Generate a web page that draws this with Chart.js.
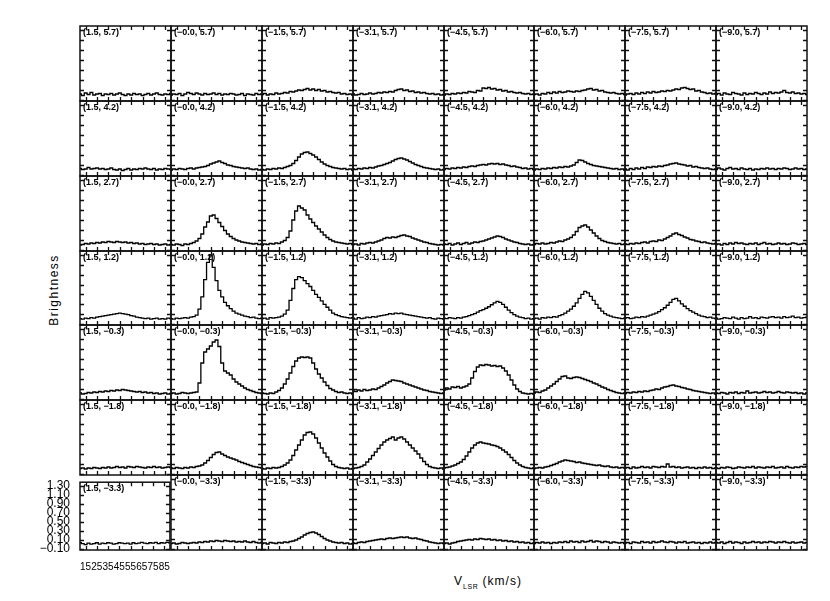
<!DOCTYPE html>
<html><head><meta charset="utf-8">
<script src="https://cdn.jsdelivr.net/npm/chart.js@4.4.1/dist/chart.umd.min.js"></script>
<style>
body{margin:0;background:#fff;}
#fig{position:relative;width:830px;height:601px;background:#fff;overflow:hidden;font-family:'Liberation Sans',Arial,sans-serif;color:#000;}
#fig canvas{position:absolute;}
#ytitle{position:absolute;left:54px;top:290px;transform:translate(-50%,-50%) rotate(-90deg);font-size:12px;letter-spacing:1.5px;white-space:nowrap;color:#000;}
#xtitle{position:absolute;left:488px;top:582px;transform:translate(-50%,-50%);font-size:12px;letter-spacing:1px;white-space:nowrap;color:#000;}
#xtitle sub{font-size:7px;letter-spacing:0.5px;}
</style></head>
<body><div id="fig"><div id="ytitle">Brightness</div><div id="xtitle">V<sub>LSR</sub> (km/s)</div></div>
<script>
const velocities=[10,12.5,15,17.5,20,22.5,25,27.5,30,32.5,35,37.5,40,42.5,45,47.5,50,52.5,55,57.5,60,62.5,65,67.5,70,72.5,75,77.5,80,82.5,85,87.5,90];
const raOffsets=['1.5','−0.0','−1.5','−3.1','−4.5','−6.0','−7.5','−9.0'];
const decOffsets=['5.7','4.2','2.7','1.2','−0.3','−1.8','−3.3'];
const yTickValues=[-0.1,0.1,0.3,0.5,0.7,0.9,1.1,1.3];
const xTickValues=[15,25,35,45,55,65,75,85];

const spectraDec57=[
[0.02,-0.01,0.04,0.01,0.05,0.00,0.02,0.03,-0.01,0.02,0.01,0.03,0.00,0.02,0.04,0.01,-0.01,0.02,0.00,0.03,0.01,0.02,-0.01,0.01,0.03,0.00,0.02,0.04,0.01,0.00,0.02,0.01,0.03],
[0.00,0.02,0.01,0.03,-0.01,0.02,0.05,0.03,0.01,0.04,0.02,0.00,0.03,0.01,0.02,0.04,0.01,0.03,0.00,0.02,0.01,0.03,0.02,0.00,0.01,0.03,-0.01,0.02,0.01,0.00,0.03,0.01,0.02],
[0.01,0.03,0.00,0.02,0.01,0.04,0.02,0.03,0.05,0.04,0.07,0.06,0.08,0.10,0.09,0.11,0.13,0.10,0.12,0.09,0.11,0.08,0.09,0.06,0.07,0.05,0.04,0.05,0.02,0.03,0.01,0.02,0.00],
[0.02,0.00,0.01,0.03,0.01,0.02,0.04,0.02,0.03,0.05,0.04,0.06,0.05,0.07,0.06,0.09,0.11,0.12,0.09,0.10,0.07,0.08,0.05,0.06,0.04,0.05,0.03,0.02,0.03,0.01,0.02,0.00,0.01],
[0.00,0.02,0.01,0.03,0.02,0.04,0.03,0.05,0.04,0.07,0.06,0.05,0.09,0.08,0.14,0.13,0.15,0.12,0.13,0.10,0.11,0.08,0.09,0.06,0.07,0.05,0.04,0.05,0.03,0.02,0.03,0.01,0.02],
[0.01,0.02,0.00,0.03,0.02,0.05,0.03,0.06,0.04,0.07,0.05,0.06,0.08,0.07,0.06,0.08,0.07,0.09,0.10,0.12,0.13,0.10,0.11,0.08,0.09,0.06,0.05,0.04,0.05,0.03,0.02,0.03,0.01],
[0.00,0.02,0.03,0.01,0.04,0.02,0.05,0.03,0.06,0.04,0.07,0.05,0.06,0.08,0.07,0.09,0.08,0.10,0.12,0.11,0.14,0.15,0.13,0.11,0.12,0.08,0.09,0.06,0.05,0.03,0.04,0.02,0.03],
[0.01,0.03,0.00,0.04,0.02,0.01,0.05,0.03,0.02,0.00,0.04,0.01,0.03,0.02,0.05,0.03,0.01,0.04,0.02,0.06,0.03,0.05,0.04,0.06,0.09,0.05,0.04,0.06,0.03,0.04,0.02,0.03,0.01]
];
const spectraDec42=[
[0.03,0.01,0.02,0.05,0.02,0.03,0.04,0.02,0.03,0.01,0.02,0.04,0.01,0.00,0.02,-0.01,0.01,0.03,0.00,0.02,0.01,0.03,0.02,0.04,0.02,0.01,0.03,0.00,0.02,0.01,0.03,0.02,0.01],
[0.00,0.02,0.01,0.03,0.02,0.01,0.03,0.04,0.02,0.04,0.05,0.06,0.07,0.09,0.12,0.14,0.16,0.18,0.15,0.13,0.10,0.09,0.07,0.06,0.05,0.04,0.03,0.04,0.02,0.01,0.02,0.00,0.01],
[0.01,0.00,0.02,0.01,0.03,0.02,0.04,0.03,0.05,0.07,0.09,0.13,0.19,0.26,0.32,0.35,0.36,0.33,0.30,0.26,0.21,0.16,0.12,0.09,0.07,0.05,0.04,0.03,0.02,0.03,0.01,0.02,0.00],
[0.02,0.01,0.03,0.02,0.04,0.03,0.05,0.04,0.06,0.08,0.09,0.11,0.13,0.15,0.18,0.21,0.23,0.24,0.22,0.20,0.17,0.14,0.11,0.09,0.07,0.05,0.04,0.03,0.02,0.01,0.02,0.00,0.01],
[0.01,0.03,0.02,0.04,0.03,0.05,0.04,0.06,0.05,0.07,0.08,0.07,0.09,0.10,0.11,0.10,0.12,0.13,0.12,0.13,0.11,0.12,0.10,0.09,0.07,0.08,0.06,0.05,0.03,0.04,0.02,0.03,0.01],
[0.00,0.02,0.01,0.03,0.02,0.04,0.03,0.05,0.04,0.06,0.05,0.07,0.06,0.08,0.10,0.15,0.20,0.19,0.16,0.13,0.11,0.09,0.08,0.07,0.06,0.05,0.04,0.03,0.02,0.03,0.01,0.02,0.00],
[0.02,0.00,0.03,0.01,0.04,0.02,0.05,0.03,0.06,0.05,0.07,0.06,0.08,0.07,0.09,0.10,0.12,0.13,0.14,0.12,0.11,0.10,0.08,0.09,0.06,0.07,0.05,0.04,0.03,0.04,0.02,0.01,0.02],
[0.01,0.04,0.02,0.00,0.03,0.05,0.02,0.03,0.01,0.04,0.02,0.01,0.03,0.00,0.02,0.01,0.03,0.02,0.04,0.02,0.03,0.01,0.03,0.02,0.04,0.03,0.01,0.02,0.04,0.02,0.03,0.01,0.02]
];
const spectraDec27=[
[0.00,0.01,0.03,0.02,0.04,0.03,0.05,0.04,0.06,0.05,0.07,0.06,0.05,0.07,0.06,0.05,0.06,0.04,0.05,0.03,0.04,0.02,0.03,0.01,0.02,0.03,0.01,0.02,0.00,0.01,0.02,0.00,0.01],
[0.01,0.00,0.02,0.01,-0.01,0.02,0.01,0.03,0.05,0.08,0.13,0.22,0.36,0.46,0.58,0.60,0.53,0.45,0.37,0.29,0.22,0.17,0.13,0.10,0.08,0.06,0.05,0.04,0.03,0.02,0.03,0.01,0.02],
[0.00,0.02,0.01,0.03,0.02,0.04,0.03,0.06,0.09,0.15,0.28,0.50,0.68,0.78,0.74,0.70,0.60,0.52,0.45,0.38,0.32,0.26,0.20,0.15,0.11,0.08,0.06,0.05,0.04,0.03,0.02,0.03,0.01],
[0.01,0.02,0.00,0.03,0.02,0.04,0.05,0.04,0.06,0.08,0.10,0.13,0.15,0.14,0.16,0.15,0.17,0.19,0.20,0.18,0.17,0.14,0.12,0.10,0.08,0.06,0.05,0.03,0.02,0.01,0.00,0.01,0.00],
[0.02,0.01,0.03,0.00,0.02,0.04,0.01,0.03,0.05,0.02,0.04,0.06,0.05,0.07,0.08,0.10,0.12,0.14,0.16,0.18,0.17,0.15,0.12,0.10,0.08,0.06,0.05,0.03,0.02,0.01,0.02,0.00,0.01],
[0.01,0.03,0.02,0.04,0.02,0.03,0.05,0.04,0.06,0.08,0.07,0.10,0.12,0.15,0.20,0.27,0.35,0.38,0.40,0.36,0.30,0.24,0.18,0.13,0.09,0.07,0.05,0.04,0.03,0.02,0.03,0.01,0.02],
[0.02,0.01,0.03,0.02,0.04,0.03,0.05,0.06,0.04,0.07,0.08,0.07,0.10,0.09,0.12,0.15,0.18,0.22,0.24,0.21,0.19,0.16,0.14,0.11,0.10,0.08,0.07,0.05,0.06,0.04,0.03,0.02,0.03],
[0.01,0.02,0.00,0.03,0.01,0.04,0.02,0.05,0.03,0.04,0.02,0.01,0.03,0.02,0.04,0.01,0.03,0.05,0.02,0.03,0.01,0.02,0.04,0.02,0.03,0.01,0.02,0.04,0.03,0.01,0.02,0.03,0.01]
];
const spectraDec12=[
[0.01,0.00,0.02,0.01,0.03,0.02,0.04,0.05,0.06,0.07,0.08,0.09,0.10,0.11,0.12,0.11,0.10,0.09,0.07,0.06,0.04,0.03,0.02,0.01,0.02,0.00,0.01,0.02,0.00,0.01,0.00,0.02,0.01],
[0.01,0.00,0.02,0.01,0.02,0.03,0.02,0.04,0.05,0.08,0.20,0.45,0.80,1.15,1.30,1.05,0.78,0.58,0.45,0.34,0.27,0.21,0.16,0.12,0.10,0.08,0.06,0.05,0.03,0.04,0.02,0.01,0.02],
[0.01,0.02,0.00,0.03,0.02,0.03,0.04,0.06,0.10,0.18,0.38,0.62,0.80,0.86,0.84,0.78,0.72,0.66,0.58,0.50,0.44,0.37,0.30,0.24,0.18,0.12,0.09,0.07,0.05,0.04,0.03,0.02,0.03],
[0.02,0.00,0.03,0.01,0.02,0.04,0.03,0.05,0.04,0.06,0.07,0.08,0.09,0.11,0.10,0.12,0.11,0.12,0.10,0.09,0.08,0.07,0.06,0.05,0.04,0.03,0.02,0.03,0.01,0.00,0.02,0.01,0.00],
[0.02,0.01,0.03,0.02,0.01,0.03,0.02,0.04,0.05,0.07,0.09,0.11,0.14,0.17,0.19,0.22,0.25,0.29,0.33,0.36,0.34,0.30,0.24,0.18,0.13,0.09,0.06,0.04,0.03,0.01,0.02,0.00,0.01],
[0.01,0.02,0.00,0.03,0.02,0.04,0.03,0.05,0.04,0.07,0.09,0.12,0.16,0.20,0.26,0.33,0.42,0.50,0.56,0.53,0.46,0.38,0.30,0.22,0.16,0.11,0.08,0.06,0.04,0.03,0.02,0.01,0.02],
[0.02,0.03,0.01,0.02,0.04,0.03,0.05,0.04,0.06,0.08,0.10,0.12,0.15,0.19,0.23,0.28,0.34,0.40,0.42,0.37,0.31,0.26,0.21,0.17,0.14,0.11,0.08,0.06,0.05,0.03,0.04,0.02,0.01],
[0.02,0.00,0.01,0.03,0.02,0.01,0.04,0.02,0.00,0.03,0.01,0.02,0.05,0.02,0.03,0.01,0.04,0.03,0.02,0.04,0.05,0.03,0.04,0.02,0.05,0.03,0.04,0.06,0.03,0.04,0.02,0.03,0.04]
];
const spectraDecM03=[
[0.02,0.00,0.01,0.03,0.02,0.04,0.03,0.05,0.04,0.06,0.05,0.07,0.06,0.08,0.07,0.09,0.08,0.07,0.06,0.05,0.04,0.05,0.03,0.04,0.02,0.03,0.01,0.02,0.00,0.01,0.02,0.00,0.01],
[0.01,0.02,0.00,0.01,0.03,0.02,0.01,0.02,0.03,0.04,0.22,0.62,0.84,0.90,0.96,1.04,1.08,0.95,0.62,0.46,0.42,0.38,0.30,0.24,0.20,0.16,0.12,0.09,0.07,0.05,0.03,0.02,0.01],
[0.02,0.01,0.00,0.02,0.01,0.04,0.07,0.12,0.20,0.30,0.42,0.55,0.66,0.72,0.74,0.73,0.74,0.72,0.62,0.50,0.40,0.32,0.24,0.17,0.11,0.08,0.05,0.03,0.04,0.02,0.01,0.02,0.00],
[0.06,0.05,0.08,0.06,0.09,0.07,0.08,0.10,0.09,0.12,0.15,0.18,0.22,0.25,0.28,0.27,0.26,0.25,0.22,0.20,0.18,0.16,0.14,0.12,0.10,0.08,0.07,0.05,0.04,0.03,0.02,0.01,0.02],
[0.08,0.12,0.10,0.14,0.13,0.15,0.12,0.14,0.16,0.20,0.32,0.45,0.54,0.58,0.57,0.59,0.58,0.56,0.57,0.55,0.56,0.52,0.46,0.38,0.28,0.18,0.10,0.05,0.02,0.01,0.00,0.01,0.00],
[0.02,0.04,0.03,0.06,0.08,0.12,0.16,0.20,0.25,0.30,0.35,0.36,0.32,0.31,0.33,0.34,0.33,0.31,0.29,0.27,0.25,0.22,0.20,0.17,0.14,0.12,0.09,0.07,0.05,0.03,0.02,0.01,0.02],
[0.01,0.03,0.02,0.04,0.03,0.05,0.04,0.06,0.05,0.07,0.08,0.10,0.09,0.12,0.14,0.15,0.17,0.18,0.16,0.15,0.13,0.12,0.10,0.09,0.07,0.06,0.05,0.04,0.03,0.02,0.01,0.02,0.00],
[0.02,0.01,0.03,0.02,0.00,0.03,0.02,0.04,0.01,0.03,0.02,0.06,0.02,0.03,0.04,0.02,0.03,0.05,0.03,0.04,0.02,0.03,0.05,0.03,0.02,0.04,0.03,0.02,0.03,0.01,0.02,0.00,0.02]
];
const spectraDecM18=[
[0.01,0.02,0.00,0.02,0.01,0.03,0.02,0.01,0.03,0.02,0.04,0.02,0.03,0.05,0.03,0.04,0.02,0.05,0.04,0.03,0.05,0.04,0.03,0.02,0.04,0.03,0.05,0.03,0.04,0.02,0.03,0.04,0.03],
[0.02,0.01,0.03,0.02,0.01,0.03,0.02,0.04,0.03,0.05,0.06,0.08,0.12,0.17,0.23,0.29,0.33,0.34,0.30,0.27,0.24,0.22,0.20,0.18,0.15,0.13,0.11,0.09,0.07,0.05,0.04,0.03,0.02],
[0.01,0.00,0.02,0.01,0.03,0.02,0.03,0.05,0.08,0.12,0.18,0.27,0.38,0.48,0.58,0.68,0.73,0.74,0.70,0.62,0.52,0.42,0.32,0.24,0.16,0.09,0.05,0.03,0.02,0.01,0.02,0.00,0.01],
[0.01,0.02,0.03,0.05,0.08,0.14,0.20,0.27,0.34,0.41,0.48,0.54,0.58,0.61,0.64,0.58,0.62,0.64,0.60,0.54,0.48,0.42,0.36,0.30,0.22,0.15,0.09,0.05,0.03,0.02,0.01,0.02,0.00],
[0.02,0.03,0.04,0.06,0.08,0.11,0.14,0.19,0.26,0.34,0.42,0.48,0.52,0.54,0.52,0.51,0.50,0.48,0.47,0.45,0.42,0.38,0.34,0.29,0.23,0.17,0.12,0.08,0.05,0.03,0.02,0.01,0.02],
[0.01,0.02,0.03,0.02,0.04,0.05,0.07,0.09,0.11,0.14,0.16,0.18,0.17,0.16,0.15,0.13,0.14,0.12,0.11,0.10,0.09,0.08,0.07,0.08,0.06,0.05,0.06,0.04,0.03,0.04,0.02,0.03,0.02],
[0.02,0.03,0.01,0.04,0.02,0.03,0.05,0.03,0.04,0.02,0.05,0.04,0.03,0.05,0.04,0.10,0.04,0.05,0.03,0.04,0.02,0.03,0.04,0.02,0.03,0.01,0.03,0.02,0.04,0.02,0.03,0.01,0.02],
[0.02,0.01,0.03,0.02,0.04,0.03,0.01,0.02,0.04,0.03,0.02,0.04,0.03,0.05,0.02,0.04,0.03,0.02,0.04,0.03,0.05,0.02,0.03,0.04,0.02,0.05,0.03,0.02,0.04,0.03,0.05,0.04,0.05]
];
const spectraDecM33=[
[0.04,0.02,0.00,0.03,0.01,0.02,0.04,0.01,0.03,0.02,0.04,0.03,0.01,0.02,0.04,0.03,0.02,0.03,0.01,0.04,0.02,0.03,0.05,0.03,0.02,0.04,0.03,0.05,0.02,0.04,0.03,0.05,0.04],
[0.01,0.02,0.00,0.01,0.03,0.02,0.01,0.02,0.03,0.02,0.04,0.03,0.05,0.04,0.06,0.05,0.07,0.06,0.05,0.07,0.06,0.05,0.06,0.04,0.05,0.04,0.06,0.04,0.03,0.05,0.03,0.02,0.03],
[0.01,0.02,0.00,0.03,0.02,0.01,0.03,0.02,0.04,0.03,0.05,0.06,0.08,0.11,0.14,0.18,0.21,0.23,0.24,0.22,0.19,0.15,0.11,0.08,0.06,0.04,0.03,0.02,0.03,0.01,0.02,0.00,0.01],
[0.02,0.01,0.03,0.04,0.03,0.05,0.06,0.07,0.08,0.09,0.10,0.09,0.11,0.12,0.11,0.12,0.13,0.14,0.13,0.14,0.12,0.11,0.12,0.10,0.09,0.07,0.06,0.04,0.03,0.02,0.01,0.02,0.01],
[0.01,0.02,0.00,0.02,0.03,0.05,0.06,0.07,0.08,0.09,0.08,0.10,0.09,0.11,0.10,0.09,0.10,0.08,0.09,0.07,0.08,0.06,0.07,0.05,0.06,0.04,0.05,0.03,0.04,0.02,0.03,0.01,0.02],
[0.01,0.03,0.02,0.04,0.02,0.03,0.01,0.03,0.02,0.04,0.03,0.05,0.03,0.06,0.04,0.05,0.03,0.06,0.04,0.05,0.07,0.04,0.06,0.05,0.03,0.05,0.04,0.02,0.04,0.03,0.02,0.03,0.01],
[0.02,0.03,0.01,0.04,0.03,0.02,0.05,0.03,0.04,0.02,0.05,0.03,0.04,0.06,0.04,0.03,0.05,0.04,0.02,0.04,0.03,0.05,0.02,0.03,0.04,0.02,0.03,0.01,0.03,0.02,0.04,0.02,0.03],
[0.03,0.02,0.04,0.01,0.03,0.05,0.02,0.04,0.03,0.01,0.04,0.02,0.03,0.05,0.03,0.04,0.02,0.04,0.03,0.05,0.04,0.02,0.04,0.03,0.05,0.03,0.02,0.04,0.02,0.03,0.04,0.02,0.03]
];
const spectraRows=[spectraDec57,spectraDec42,spectraDec27,spectraDec12,spectraDecM03,spectraDecM18,spectraDecM33];

const fmtTick=v=>(v<0?'−':'')+Math.abs(v).toFixed(2);

const panelFrame={
  id:'panelFrame',
  afterDatasetsDraw(chart,args,opts){
    const ctx=chart.ctx,a=chart.chartArea,x=chart.scales.x,y=chart.scales.y;
    ctx.save();
    ctx.strokeStyle='#111';ctx.lineWidth=1.5;
    ctx.strokeRect(a.left,a.top,a.right-a.left,a.bottom-a.top);
    ctx.lineWidth=1.3;ctx.beginPath();
    const tl=4;
    yTickValues.forEach(v=>{const p=Math.round(y.getPixelForValue(v))+0.5;
      ctx.moveTo(a.left,p);ctx.lineTo(a.left+tl,p);ctx.moveTo(a.right,p);ctx.lineTo(a.right-tl,p);});
    xTickValues.forEach(v=>{const p=Math.round(x.getPixelForValue(v))+0.5;
      ctx.moveTo(p,a.bottom);ctx.lineTo(p,a.bottom-tl);ctx.moveTo(p,a.top);ctx.lineTo(p,a.top+tl);});
    ctx.stroke();
    ctx.fillStyle='#000';ctx.font="bold 9px 'Liberation Sans'";ctx.textBaseline='top';ctx.textAlign='left';
    ctx.fillText(opts.label,a.left+3,a.top+2);
    ctx.restore();
  }
};

const fig=document.getElementById('fig');
function makePanel(r,c){
  const labeled=(r===6&&c===0);
  const L=Math.round(80+c*90.875),R=Math.round(80+(c+1)*90.875);
  const T=Math.round(26+r*74.857),B=Math.round(26+(r+1)*74.857);
  const m=2,padL=labeled?60:m,padB=labeled?26:m;
  const w=(R-L)+padL+m,h=(B-T)+m+padB;
  const cv=document.createElement('canvas');
  cv.width=w;cv.height=h;
  cv.style.left=(L-padL)+'px';cv.style.top=(T-m)+'px';
  cv.style.width=w+'px';cv.style.height=h+'px';
  fig.appendChild(cv);
  const series=spectraRows[r][c];
  const xScale={type:'linear',min:10,max:90,display:labeled,
    grid:{display:false},border:{display:false},
    afterBuildTicks:s=>{s.ticks=xTickValues.map(v=>({value:v}));},
    ticks:{autoSkip:false,maxRotation:0,padding:3,color:'#000',font:{family:'Liberation Sans',size:10},callback:v=>String(v)}};
  const yScale={type:'linear',min:-0.12,max:1.38,display:labeled,
    grid:{display:false},border:{display:false},
    afterBuildTicks:s=>{s.ticks=yTickValues.map(v=>({value:v}));},
    ticks:{autoSkip:false,padding:2,color:'#000',font:{family:'Liberation Sans',size:12},callback:v=>fmtTick(v)}};
  if(labeled){
    xScale.afterFit=s=>{s.height=26;};
    yScale.afterFit=s=>{s.width=60;};
  }
  new Chart(cv,{
    type:'line',
    data:{datasets:[{data:velocities.map((v,i)=>({x:v,y:series[i]})),borderColor:'#000',borderWidth:1.3,
      pointRadius:0,stepped:'middle',fill:false}]},
    options:{
      responsive:false,animation:false,devicePixelRatio:1,
      layout:{padding:labeled?{left:0,top:m,right:m,bottom:0}:m},
      plugins:{legend:{display:false},tooltip:{enabled:false},
        panelFrame:{label:'('+raOffsets[c]+', '+decOffsets[r]+')'}},
      scales:{x:xScale,y:yScale}
    },
    plugins:[panelFrame]
  });
}
for(let r=0;r<7;r++)for(let c=0;c<8;c++)makePanel(r,c);
</script>
</body></html>
